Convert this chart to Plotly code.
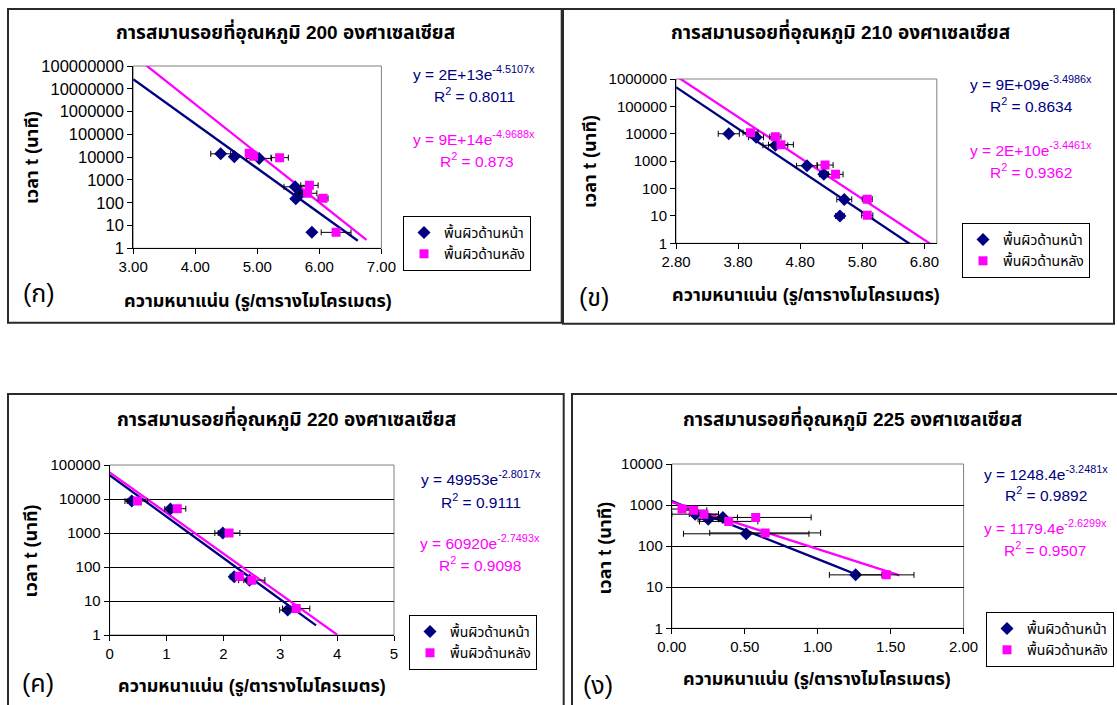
import numpy as np
import plotly.graph_objects as go

W, H = 1117, 705
NAVY = "#000080"
PINK = "#FF00FF"
FONT = "Arial, 'Noto Sans Thai', Tahoma, sans-serif"

def px(x):
    return x / W

def py(y):
    return 1 - y / H

# ---------------- data ----------------
series_names = ["พื้นผิวด้านหน้า", "พื้นผิวด้านหลัง"]
titles = [
    "การสมานรอยที่อุณหภูมิ 200 องศาเซลเซียส",
    "การสมานรอยที่อุณหภูมิ 210 องศาเซลเซียส",
    "การสมานรอยที่อุณหภูมิ 220 องศาเซลเซียส",
    "การสมานรอยที่อุณหภูมิ 225 องศาเซลเซียส",
]
panel_letters = ["(ก)", "(ข)", "(ค)", "(ง)"]
x_title = "ความหนาแน่น (รู/ตารางไมโครเมตร)"
y_title = "เวลา t (นาที)"

# Panel 1 : 200 C
p1_front_x = [4.41, 4.63, 5.03, 5.61, 5.69, 5.62, 5.88]
p1_front_y = [14000, 10500, 8800, 500, 240, 150, 5]
p1_front_err = [0.16, 0.03, 0.20, 0.18, 0.08, 0.04, 0.04]
p1_back_x = [4.87, 4.94, 5.36, 5.84, 5.81, 6.06, 6.27]
p1_back_y = [15000, 11000, 9500, 580, 260, 157, 5]
p1_back_err = [0.05, 0.05, 0.14, 0.14, 0.15, 0.08, 0.24]
p1_front_fit = (2e13, -4.5107, 3.0, 6.62)
p1_back_fit = (9e14, -4.9688, 3.0, 6.76)
p1_eq = ["y = 2E+13e<sup>-4.5107x</sup>", "R<sup>2</sup> = 0.8011",
         "y = 9E+14e<sup>-4.9688x</sup>", "R<sup>2</sup> = 0.873"]

# Panel 2 : 210 C
p2_front_x = [3.65, 4.09, 4.40, 4.91, 5.18, 5.51, 5.44]
p2_front_y = [10000, 7500, 3800, 680, 330, 40, 10]
p2_front_err = [0.17, 0.12, 0.20, 0.17, 0.07, 0.12, 0.07]
p2_back_x = [4.00, 4.40, 4.49, 5.20, 5.37, 5.88, 5.88]
p2_back_y = [11000, 7800, 4000, 720, 330, 41, 10.5]
p2_back_err = [0.12, 0.09, 0.20, 0.13, 0.12, 0.08, 0.09]
p2_front_fit = (9e9, -3.4986, 2.8, 6.6)
p2_back_fit = (2e10, -3.4461, 2.8, 6.95)
p2_eq = ["y = 9E+09e<sup>-3.4986x</sup>", "R<sup>2</sup> = 0.8634",
         "y = 2E+10e<sup>-3.4461x</sup>", "R<sup>2</sup> = 0.9362"]

# Panel 3 : 220 C
p3_front_x = [0.39, 1.07, 1.99, 2.19, 2.46, 3.13]
p3_front_y = [8700, 5100, 1000, 52, 41, 5.4]
p3_front_err = [0.12, 0.10, 0.14, 0.07, 0.10, 0.14]
p3_back_x = [0.49, 1.19, 2.10, 2.28, 2.50, 3.28]
p3_back_y = [8700, 5200, 1000, 53, 41, 6]
p3_back_err = [0.18, 0.15, 0.19, 0.06, 0.23, 0.24]
p3_front_fit = (49953, -2.8017, 0.0, 3.63)
p3_back_fit = (60920, -2.7493, 0.0, 4.0)
p3_eq = ["y = 49953e<sup>-2.8017x</sup>", "R<sup>2</sup> = 0.9111",
         "y = 60920e<sup>-2.7493x</sup>", "R<sup>2</sup> = 0.9098"]

# Panel 4 : 225 C
p4_front_x = [0.16, 0.25, 0.35, 0.51, 1.26]
p4_front_y = [600, 450, 500, 200, 20]
p4_front_err = [0.16, 0.07, 0.10, 0.43, 0.18]
p4_back_x = [0.07, 0.15, 0.22, 0.39, 0.575, 0.64, 1.47]
p4_back_y = [800, 750, 600, 400, 500, 210, 20]
p4_back_err = [0.08, 0.09, 0.10, 0.20, 0.38, 0.38, 0.19]
p4_front_fit = (1248.4, -3.2481, 0.0, 1.27)
p4_back_fit = (1179.4, -2.6299, 0.0, 1.56)
p4_eq = ["y = 1248.4e<sup>-3.2481x</sup>", "R<sup>2</sup> = 0.9892",
         "y = 1179.4e<sup>-2.6299x</sup>", "R<sup>2</sup> = 0.9507"]

# x-axis ticks
p1_xticks = [3, 4, 5, 6, 7]
p2_xticks = [2.8, 3.8, 4.8, 5.8, 6.8]
p3_xticks = [0, 1, 2, 3, 4, 5]
p4_xticks = [0, 0.5, 1.0, 1.5, 2.0]

# ---------------- layout geometry (pixels) ----------------
panels = [
    dict(fx=p1_front_x, fy=p1_front_y, fe=p1_front_err, bx=p1_back_x, by=p1_back_y, be=p1_back_err,
         ff=p1_front_fit, bf=p1_back_fit, eq=p1_eq, xticks=p1_xticks, xfmt=".2f",
         xr=[3, 7], ydec=8, grid=False, ytick_size=16.5,
         plot=(133.2, 381.4, 66, 248.3), frame=(8, 561.7, 9, 322.7),
         title=(285, 32), eqpos=[(474, 73), (475, 95), (474, 138), (477, 160)],
         legend=(531, 216), letter=(39, 293), xt=(257.5, 301), yt=(32, 158)),
    dict(fx=p2_front_x, fy=p2_front_y, fe=p2_front_err, bx=p2_back_x, by=p2_back_y, be=p2_back_err,
         ff=p2_front_fit, bf=p2_back_fit, eq=p2_eq, xticks=p2_xticks, xfmt=".2f",
         xr=[2.8, 7.0], ydec=6, grid=False, ytick_size=15,
         plot=(676, 936.8, 79, 243.3), frame=(563, 1114, 9, 323.7),
         title=(840, 32), eqpos=[(1031, 83), (1031, 105), (1031, 149), (1031, 171)],
         legend=(1090, 223), letter=(594, 297), xt=(806, 295), yt=(590, 162)),
    dict(fx=p3_front_x, fy=p3_front_y, fe=p3_front_err, bx=p3_back_x, by=p3_back_y, be=p3_back_err,
         ff=p3_front_fit, bf=p3_back_fit, eq=p3_eq, xticks=p3_xticks, xfmt="d",
         xr=[0, 5], ydec=5, grid=True, ytick_size=15,
         plot=(109.6, 394, 465, 635), frame=(8, 563.7, 394, 712),
         title=(286.6, 418), eqpos=[(481, 478), (481, 501), (480, 542), (480, 564)],
         legend=(537, 615), letter=(37.5, 683), xt=(252, 686), yt=(31.4, 551)),
    dict(fx=p4_front_x, fy=p4_front_y, fe=p4_front_err, bx=p4_back_x, by=p4_back_y, be=p4_back_err,
         ff=p4_front_fit, bf=p4_back_fit, eq=p4_eq, xticks=p4_xticks, xfmt=".2f",
         xr=[0, 2], ydec=4, grid=True, ytick_size=15,
         plot=(671.8, 963.6, 464, 628.3), frame=(572, 1122, 394, 712),
         title=(852.5, 418), eqpos=[(1046, 473), (1046, 494), (1045, 527), (1045, 549)],
         legend=(1114, 612), letter=(597.5, 685), xt=(816.8, 679), yt=(604.6, 548)),
]

fig = go.Figure()
shapes = []
annotations = []
layout = {}


def note(x, y, text, size, color="black", angle=0):
    annotations.append(dict(x=px(x), y=py(y), xref="paper", yref="paper", showarrow=False,
                            xanchor="center", yanchor="middle", text=text, textangle=angle,
                            font=dict(family=FONT, size=size, color=color)))


for i, p in enumerate(panels, start=1):
    sx = "" if i == 1 else str(i)
    xa, ya = "x" + sx, "y" + sx
    leg = "legend" + sx

    # trendlines
    for fit, col in ((p["ff"], NAVY), (p["bf"], PINK)):
        a, b, lo, hi = fit
        xs = np.linspace(lo, hi, 300)
        fig.add_trace(go.Scatter(x=xs, y=a * np.exp(b * xs), mode="lines",
                                 line=dict(color=col, width=2.3), showlegend=False,
                                 hoverinfo="skip", xaxis=xa, yaxis=ya))
    # data with error bars
    fig.add_trace(go.Scatter(x=p["fx"], y=p["fy"], mode="markers", name=series_names[0],
                             marker=dict(symbol="diamond", color=NAVY, size=10),
                             error_x=dict(type="data", array=p["fe"], color="black", thickness=1, width=3),
                             xaxis=xa, yaxis=ya, legend=leg))
    fig.add_trace(go.Scatter(x=p["bx"], y=p["by"], mode="markers", name=series_names[1],
                             marker=dict(symbol="square", color=PINK, size=9),
                             error_x=dict(type="data", array=p["be"], color="black", thickness=1, width=3),
                             xaxis=xa, yaxis=ya, legend=leg))

    x0, x1, y0, y1 = p["plot"]
    xtickfont = dict(family=FONT, size=15, color="black")
    ytickfont = dict(family=FONT, size=p["ytick_size"], color="black")
    if p["xfmt"] == "d":
        xtext = [str(int(v)) for v in p["xticks"]]
    else:
        xtext = [f"{v:.2f}" for v in p["xticks"]]
    layout["xaxis" + sx] = dict(domain=[px(x0), px(x1)], anchor=ya, range=p["xr"],
                                tickvals=p["xticks"], ticktext=xtext, automargin=False,
                                showline=True, linecolor="black", linewidth=1,
                                ticks="outside", ticklen=5, tickcolor="black",
                                showgrid=False, zeroline=False, tickfont=xtickfont)
    yv = [10 ** k for k in range(p["ydec"] + 1)]
    layout["yaxis" + sx] = dict(domain=[py(y1), py(y0)], anchor=xa, type="log", automargin=False,
                                range=[0, p["ydec"]], tickvals=yv, ticktext=[str(v) for v in yv],
                                showline=True, linecolor="black", linewidth=1,
                                ticks="outside", ticklen=5, tickcolor="black",
                                showgrid=p["grid"], gridcolor="black", gridwidth=1,
                                zeroline=False, tickfont=ytickfont)

    # plot area border
    shapes.append(dict(type="rect", xref=xa + " domain", yref=ya + " domain",
                       x0=0, x1=1, y0=0, y1=1, line=dict(color="#808080", width=1), layer="below"))
    # panel frame
    fx0, fx1, fy0, fy1 = p["frame"]
    shapes.append(dict(type="rect", xref="paper", yref="paper",
                       x0=px(fx0), x1=px(fx1), y0=py(fy1), y1=py(fy0),
                       line=dict(color="#2a2a2a", width=2)))

    # legend (anchored at its right edge)
    lx, ly = p["legend"]
    layout[leg] = dict(x=px(lx), y=py(ly), xanchor="right", yanchor="top",
                       bgcolor="white", bordercolor="black", borderwidth=1,
                       font=dict(family=FONT, size=14, color="black"),
                       itemwidth=30, tracegroupgap=0)

    note(*p["title"], "<b>" + titles[i - 1] + "</b>", 19)
    cols = [NAVY, NAVY, PINK, PINK]
    for (ex, ey), txt, col in zip(p["eqpos"], p["eq"], cols):
        note(ex, ey, txt, 15.5, col)
    note(*p["xt"], "<b>" + x_title + "</b>", 18)
    note(*p["yt"], "<b>" + y_title + "</b>", 18, angle=-90)
    note(*p["letter"], panel_letters[i - 1], 25)

fig.update_layout(
    width=W, height=H, margin=dict(l=0, r=0, t=0, b=0, autoexpand=False),
    paper_bgcolor="white", plot_bgcolor="white",
    shapes=shapes, annotations=annotations, **layout,
)

fig.write_html("out.html")
